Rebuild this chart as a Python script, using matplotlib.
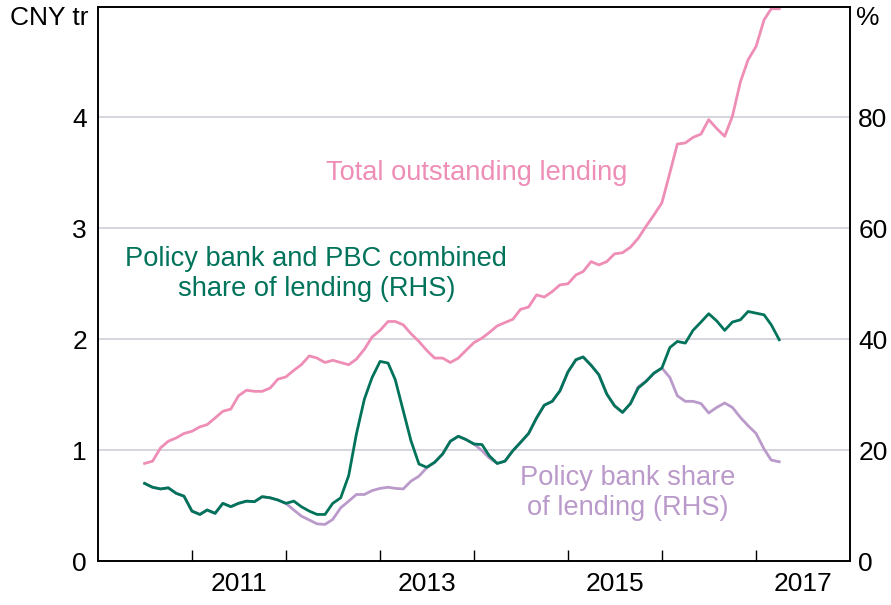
import matplotlib
matplotlib.use("Agg")
import matplotlib.pyplot as plt
import pandas as pd
from datetime import datetime

plt.rcParams['font.family'] = ['Liberation Sans', 'DejaVu Sans']

# Monthly observations, Jul 2010 onwards
dates = pd.date_range('2010-07-01', periods=82, freq='MS')

# Total outstanding lending (CNY tr, LHS)
total_lending = [0.88, 0.90, 1.02, 1.08, 1.11, 1.15, 1.17, 1.21, 1.23, 1.29,
                 1.35, 1.37, 1.49, 1.54, 1.53, 1.53, 1.56, 1.64, 1.66, 1.72,
                 1.77, 1.85, 1.83, 1.79, 1.81, 1.79, 1.77, 1.82, 1.91, 2.02,
                 2.08, 2.16, 2.16, 2.13, 2.05, 1.98, 1.90, 1.83, 1.83, 1.79,
                 1.83, 1.90, 1.97, 2.01, 2.06, 2.12, 2.15, 2.18, 2.27, 2.29,
                 2.40, 2.38, 2.43, 2.49, 2.50, 2.58, 2.61, 2.70, 2.67, 2.70,
                 2.77, 2.78, 2.83, 2.91, 3.02, 3.12, 3.23, 3.50, 3.76, 3.77,
                 3.82, 3.85, 3.98, 3.90, 3.83, 4.01, 4.32, 4.52, 4.64, 4.88,
                 4.98, 4.98]

# Policy bank and PBC combined share of lending (%, RHS)
combined_share = [14.0, 13.3, 13.0, 13.2, 12.2, 11.7, 9.0, 8.4, 9.2, 8.6,
                  10.4, 9.8, 10.4, 10.8, 10.7, 11.6, 11.4, 11.0, 10.4, 10.8,
                  9.8, 9.0, 8.4, 8.4, 10.4, 11.4, 15.4, 22.9, 29.2, 33.1,
                  36.0, 35.7, 32.7, 27.1, 21.7, 17.5, 16.9, 17.8, 19.3, 21.6,
                  22.5, 21.9, 21.1, 21.0, 19.0, 17.6, 18.0, 19.9, 21.4, 23.0,
                  25.8, 28.1, 28.8, 30.7, 34.1, 36.3, 36.8, 35.3, 33.6, 30.1,
                  28.0, 26.8, 28.4, 31.2, 32.4, 33.9, 34.8, 38.5, 39.6, 39.3,
                  41.6, 43.1, 44.6, 43.3, 41.6, 43.1, 43.5, 45.0, 44.7, 44.4,
                  42.6, 39.9]

# Policy bank share of lending (%, RHS)
policy_share = [14.0, 13.3, 13.0, 13.2, 12.2, 11.7, 9.0, 8.4, 9.2, 8.6,
                10.4, 9.8, 10.4, 10.8, 10.7, 11.6, 11.4, 11.0, 10.4, 9.2,
                8.1, 7.4, 6.7, 6.6, 7.5, 9.6, 10.8, 12.0, 12.0, 12.7,
                13.1, 13.3, 13.1, 13.0, 14.4, 15.3, 16.8, 17.8, 19.3, 21.6,
                22.5, 21.9, 21.1, 19.9, 18.6, 17.6, 18.0, 19.9, 21.4, 23.0,
                25.8, 28.1, 28.8, 30.7, 34.1, 36.3, 36.8, 35.3, 33.6, 30.1,
                28.0, 26.8, 28.4, 31.4, 32.5, 33.8, 34.8, 33.1, 29.8, 28.8,
                28.8, 28.4, 26.7, 27.7, 28.5, 27.7, 25.9, 24.4, 23.0, 20.2,
                18.2, 17.9]

year_labels = ['2011', '2013', '2015', '2017']

pink = '#EE8DB6'
green = '#00735A'
purple = '#BA9ACA'
fs = 19
fs_note = 19.6

fig = plt.figure(figsize=(8.91, 6.05), dpi=100)
ax = fig.add_axes([0.110, 0.0727, 0.844, 0.9165])
ax2 = ax.twinx()

ax.set_ylim(0, 5)
ax2.set_ylim(0, 100)
ax.set_xlim(datetime(2010, 1, 1), datetime(2018, 1, 1))

for v in [1, 2, 3, 4]:
    ax.axhline(v, color='#CBCAD6', lw=1.1, zorder=0)

ax.plot(dates, total_lending, color=pink, lw=2)
ax2.plot(dates, policy_share, color=purple, lw=2)
ax2.plot(dates, combined_share, color=green, lw=2)

# x axis: ticks at year starts, labels mid-year
ax.set_xticks([datetime(y, 1, 1) for y in range(2011, 2018)])
ax.set_xticklabels([])
ax.set_xticks([datetime(int(y), 7, 1) for y in year_labels], minor=True)
ax.set_xticklabels(year_labels, minor=True)
ax.tick_params(axis='x', which='major', direction='in', length=8, width=1, color='black')
ax.tick_params(axis='x', which='minor', length=0, pad=8, labelsize=fs)

ax.set_yticks([0, 1, 2, 3, 4])
ax.tick_params(axis='y', length=0, pad=8, labelsize=fs)
ax2.set_yticks([0, 20, 40, 60, 80])
ax2.tick_params(axis='y', length=0, pad=6, labelsize=fs)

for a in (ax, ax2):
    for s in a.spines.values():
        s.set_color('black')
        s.set_linewidth(1.2)

fig.text(0.099, 0.970, 'CNY tr', ha='right', va='center', fontsize=fs)
fig.text(0.961, 0.970, '%', ha='left', va='center', fontsize=fs)

ax.text(datetime(2014, 1, 12), 3.50, 'Total outstanding lending',
        color=pink, fontsize=fs_note, ha='center', va='center')
ax.text(datetime(2012, 4, 28), 2.585, 'Policy bank and PBC combined\nshare of lending (RHS)',
        color=green, fontsize=fs_note, ha='center', va='center', linespacing=1.2)
ax.text(datetime(2015, 8, 22), 0.61, 'Policy bank share\nof lending (RHS)',
        color=purple, fontsize=fs_note, ha='center', va='center', linespacing=1.2)

fig.savefig('out.png', dpi=100)
